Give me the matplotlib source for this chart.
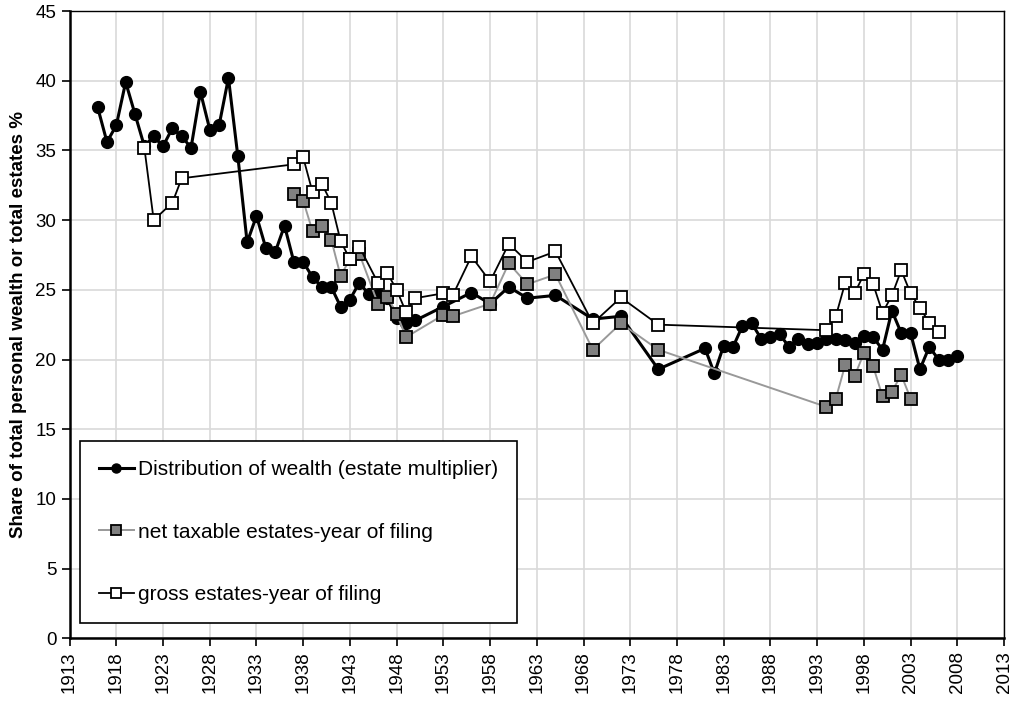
import matplotlib
matplotlib.use("Agg")
import matplotlib.pyplot as plt

plt.rcParams['font.family'] = ['Liberation Sans', 'DejaVu Sans']

# Distribution of wealth (estate multiplier)
dist_years = [1916, 1917, 1918, 1919, 1920, 1921, 1922, 1923, 1924, 1925, 1926, 1927, 1928, 1929,
              1930, 1931, 1932, 1933, 1934, 1935, 1936, 1937, 1938, 1939, 1940, 1941, 1942, 1943,
              1944, 1945, 1946, 1947, 1948, 1949, 1950, 1953, 1956, 1958, 1960, 1962, 1965, 1969,
              1972, 1976, 1981, 1982, 1983, 1984, 1985, 1986, 1987, 1988, 1989, 1990, 1991, 1992,
              1993, 1994, 1995, 1996, 1997, 1998, 1999, 2000, 2001, 2002, 2003, 2004, 2005, 2006,
              2007, 2008]
dist_vals = [38.1, 35.6, 36.8, 39.9, 37.6, 35.3, 36.0, 35.3, 36.6, 36.0, 35.2, 39.2, 36.5, 36.8,
             40.2, 34.6, 28.4, 30.3, 28.0, 27.7, 29.6, 27.0, 27.0, 25.9, 25.2, 25.2, 23.8, 24.3,
             25.5, 24.7, 24.6, 24.4, 23.0, 22.6, 22.8, 23.8, 24.8, 24.0, 25.2, 24.4, 24.6, 22.9,
             23.1, 19.3, 20.8, 19.0, 21.0, 20.9, 22.4, 22.6, 21.5, 21.6, 21.8, 20.9, 21.5, 21.1,
             21.2, 21.5, 21.5, 21.4, 21.2, 21.7, 21.6, 20.7, 23.5, 21.9, 21.9, 19.3, 20.9, 20.0,
             20.0, 20.25]

# net taxable estates - year of filing
net_years = [1937, 1938, 1939, 1940, 1941, 1942, 1943, 1944, 1946, 1947, 1948, 1949, 1953, 1954,
             1958, 1960, 1962, 1965, 1969, 1972, 1976, 1994, 1995, 1996, 1997, 1998, 1999, 2000,
             2001, 2002, 2003]
net_vals = [31.9, 31.4, 29.2, 29.6, 28.6, 26.0, 27.2, 27.6, 24.0, 24.5, 23.3, 21.6, 23.2, 23.1,
            24.0, 26.9, 25.4, 26.1, 20.7, 22.6, 20.7, 16.6, 17.2, 19.6, 18.8, 20.45, 19.5, 17.35,
            17.7, 18.9, 17.2]

# gross estates - year of filing
gross_years = [1921, 1922, 1924, 1925, 1937, 1938, 1939, 1940, 1941, 1942, 1943, 1944, 1946, 1947,
               1948, 1949, 1950, 1953, 1954, 1956, 1958, 1960, 1962, 1965, 1969, 1972, 1976, 1994,
               1995, 1996, 1997, 1998, 1999, 2000, 2001, 2002, 2003, 2004, 2005, 2006]
gross_vals = [35.2, 30.0, 31.25, 33.0, 34.0, 34.5, 32.0, 32.6, 31.25, 28.5, 27.2, 28.1, 25.5, 26.2,
              25.0, 23.4, 24.4, 24.75, 24.6, 27.4, 25.6, 28.3, 27.0, 27.75, 22.6, 24.45, 22.5, 22.1,
              23.1, 25.5, 24.75, 26.1, 25.4, 23.35, 24.6, 26.4, 24.75, 23.7, 22.65, 22.0]

x_ticks = list(range(1913, 2014, 5))
y_ticks = list(range(0, 46, 5))

fig = plt.figure(figsize=(10.19, 7.06), dpi=100)
ax = fig.add_axes([0.0683, 0.0959, 0.917, 0.8885])

ax.plot(dist_years, dist_vals, color='black', lw=2.2, marker='o', ms=8.5,
        mfc='black', mec='black', label='Distribution of wealth (estate multiplier)', zorder=3)
ax.plot(net_years, net_vals, color='#999999', lw=1.4, marker='s', ms=8,
        mfc='#808080', mec='black', mew=1.3, label='net taxable estates-year of filing', zorder=4)
ax.plot(gross_years, gross_vals, color='black', lw=1.3, marker='s', ms=8,
        mfc='white', mec='black', mew=1.3, label='gross estates-year of filing', zorder=5)

ax.set_xlim(1913, 2013)
ax.set_ylim(0, 45)
ax.set_xticks(x_ticks)
ax.set_xticklabels([str(t) for t in x_ticks], rotation=90)
ax.set_yticks(y_ticks)
ax.tick_params(axis='both', labelsize=13.5, direction='out', length=6, width=1.2, color='black')
ax.grid(True, color='#d9d9d9', lw=1.2, zorder=0)
ax.set_axisbelow(True)
for s in ['left', 'bottom']:
    ax.spines[s].set_linewidth(1.8)
for s in ['top', 'right']:
    ax.spines[s].set_linewidth(1.0)
for s in ax.spines.values():
    s.set_color('black')

ax.set_ylabel('Share of total personal wealth or total estates %', fontsize=13.5,
              fontweight='bold', labelpad=6)

leg = ax.legend(loc='lower left', bbox_to_anchor=(0.011, 0.024), fontsize=15,
                frameon=True, fancybox=False, edgecolor='black', framealpha=1,
                handlelength=1.7, handletextpad=0.2, labelspacing=2.1, borderpad=0.9,
                borderaxespad=0)
leg.get_frame().set_linewidth(1.2)
for h in leg.legend_handles:
    h.set_markersize(6.5)

fig.savefig('out.png', dpi=100)
